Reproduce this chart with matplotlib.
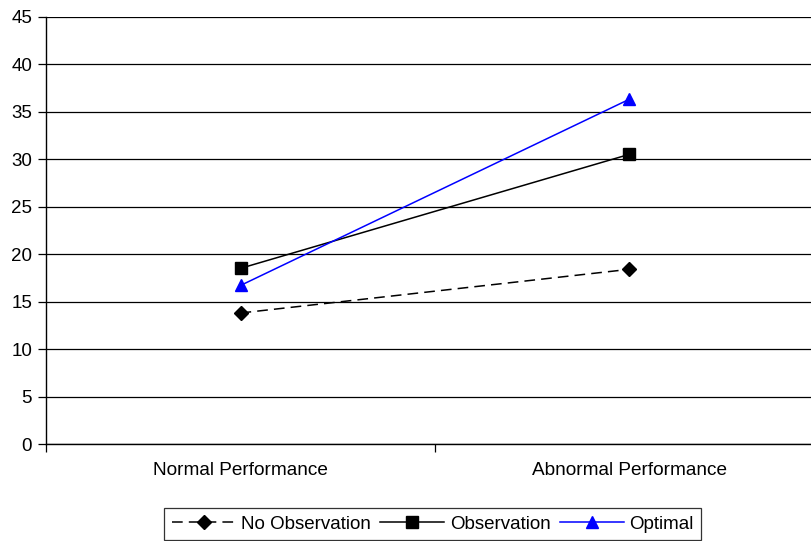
import matplotlib.pyplot as plt
import numpy as np

# performance categories and the three series
categories = ["Normal Performance", "Abnormal Performance"]
no_observation = [13.8, 18.4]
observation = [18.5, 30.5]
optimal = [16.7, 36.3]

y_ticks = [0, 5, 10, 15, 20, 25, 30, 35, 40, 45]

plt.rcParams['font.family'] = ['Liberation Sans', 'DejaVu Sans']

fig = plt.figure(figsize=(8.12, 5.41), dpi=100)
ax = fig.add_axes([0.0567, 0.179, 0.958, 0.7905])

x = np.arange(len(categories)) + 0.5

ax.plot(x, no_observation, color="black", lw=1.1, linestyle=(0, (7, 4)),
        marker="D", markersize=7.5, label="No Observation")
ax.plot(x, observation, color="black", lw=1.1,
        marker="s", markersize=8, label="Observation")
ax.plot(x, optimal, color="#0000ff", lw=1.1,
        marker="^", markersize=8, label="Optimal")

ax.set_xlim(0, len(categories))
ax.set_ylim(0, 45)
ax.set_yticks(y_ticks)
ax.yaxis.grid(True, color="black", lw=0.9)
ax.set_axisbelow(True)

# boundary ticks on the category axis, labels centred between them
ax.set_xticks(np.arange(len(categories) + 1))
ax.set_xticklabels([])
ax.set_xticks(x, minor=True)
ax.set_xticklabels(categories, minor=True)
ax.tick_params(axis="x", which="major", length=6, width=0.9, color="black")
ax.tick_params(axis="x", which="minor", length=0, pad=13, labelsize=13.7)
ax.tick_params(axis="y", length=6, width=0.9, labelsize=13.5, pad=4)

for side in ["top", "right"]:
    ax.spines[side].set_visible(False)
ax.spines["left"].set_linewidth(1)
ax.spines["bottom"].set_linewidth(1)

leg = fig.legend(loc="upper center", bbox_to_anchor=(0.533, 0.061), ncol=3,
                 frameon=True, fancybox=False, edgecolor="black",
                 fontsize=13.5, handlelength=3.4, handletextpad=0.3,
                 columnspacing=0.5, borderpad=0.4, borderaxespad=0)
leg.get_frame().set_linewidth(0.9)

fig.savefig("out.png", dpi=100)
